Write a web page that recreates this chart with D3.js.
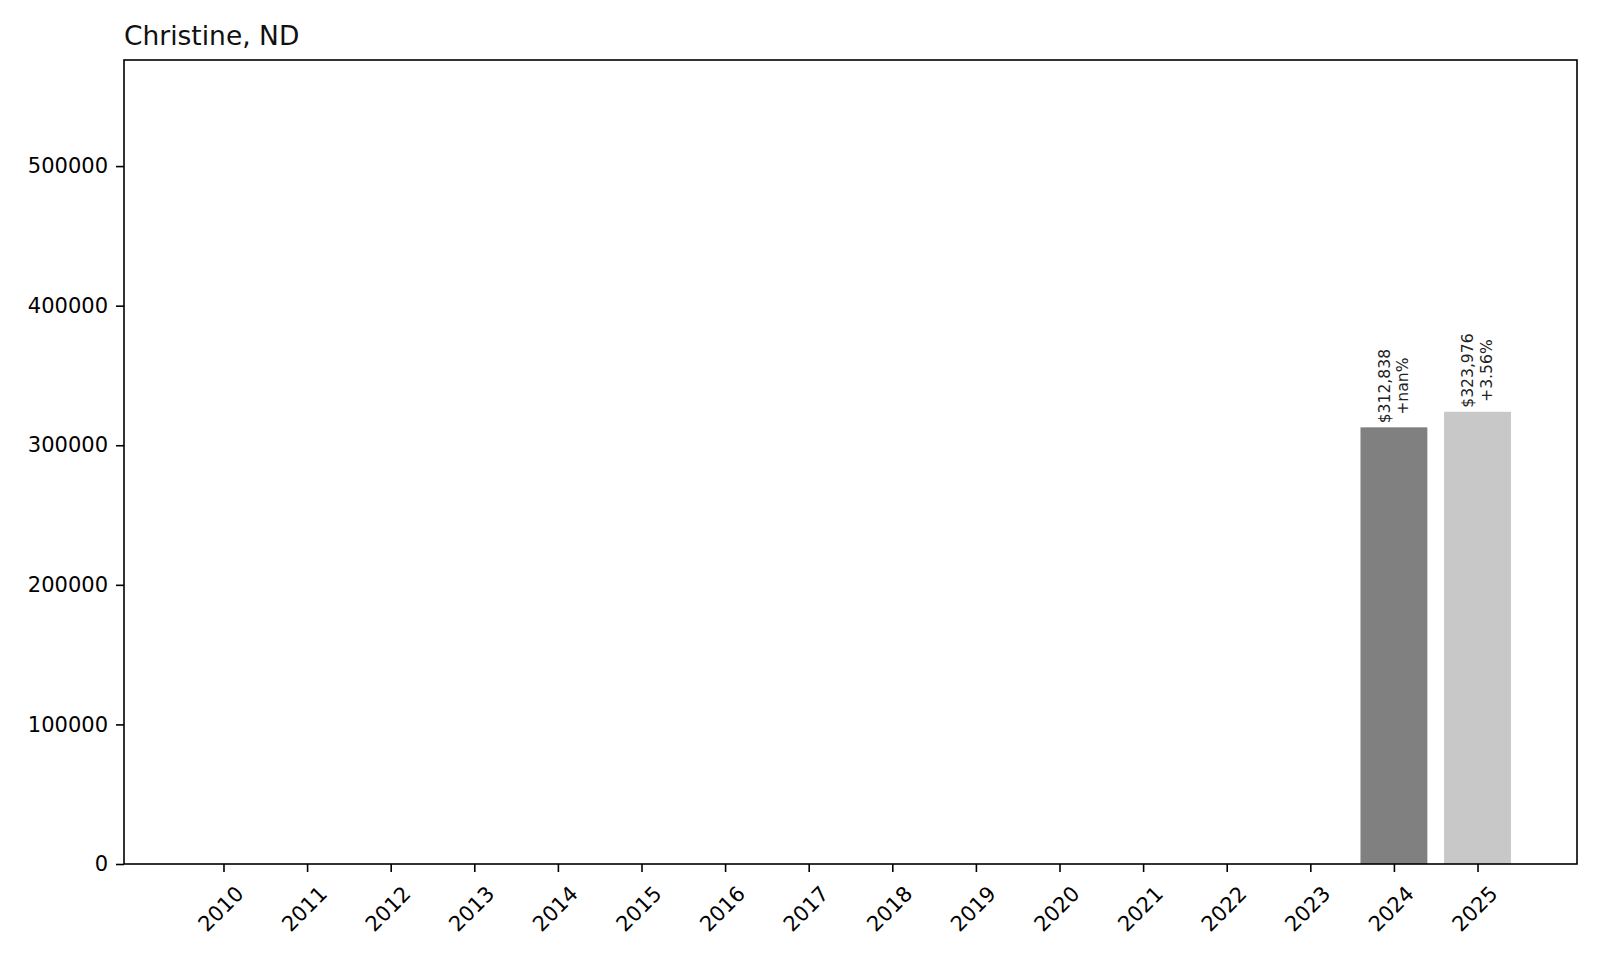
<!DOCTYPE html>
<html>
<head>
<meta charset="utf-8">
<script src="https://cdn.jsdelivr.net/npm/d3@7"></script>
<style>
  html, body { margin: 0; padding: 0; background: #fff; }
  svg { display: block; }
  text { font-family: "DejaVu Sans", sans-serif; fill: #000; }
</style>
</head>
<body>
<svg id="chart" width="1600" height="960"></svg>
<script>
const title = "Christine, ND";
const years = ["2010","2011","2012","2013","2014","2015","2016","2017","2018","2019","2020","2021","2022","2023","2024","2025"];
const values = [0,0,0,0,0,0,0,0,0,0,0,0,0,0,312838,323976];
const valueLabels = ["","","","","","","","","","","","","","","$312,838","$323,976"];
const changeLabels = ["","","","","","","","","","","","","","","+nan%","+3.56%"];
const barColors = ["#808080","#808080","#808080","#808080","#808080","#808080","#808080","#808080","#808080","#808080","#808080","#808080","#808080","#808080","#808080","#c8c8c8"];
const yTicks = [0, 100000, 200000, 300000, 400000, 500000];
const yMax = 576000;

(function () {
const svg = d3.select("#chart");
const mLeft = 124, mRight = 1577, mTop = 60, mBottom = 864;

const x = d3.scaleLinear().domain([-1.19, 16.19]).range([mLeft, mRight]);
const y = d3.scaleLinear().domain([0, yMax]).range([mBottom, mTop]);
const bw = 0.8;

// bars
const g = svg.append("g");
years.forEach((yr, i) => {
  const v = values[i];
  if (!v) return;
  g.append("rect")
    .attr("x", x(i - bw/2))
    .attr("width", x(i + bw/2) - x(i - bw/2))
    .attr("y", y(v))
    .attr("height", y(0) - y(v))
    .attr("fill", barColors[i]);
});

// bar labels
years.forEach((yr, i) => {
  const v = values[i];
  if (!v) return;
  const cx = x(i);
  const lines = [valueLabels[i], changeLabels[i]];
  const fs = 15.6, lh = 18.5;
  const tmp = svg.append("text").style("font-size", fs + "px");
  let maxLen = 0;
  lines.forEach(l => { tmp.text(l); maxLen = Math.max(maxLen, tmp.node().getComputedTextLength()); });
  tmp.remove();
  const pad = 4;
  const cy = y(v) - pad - maxLen / 2;
  const n = lines.length;
  lines.forEach((l, k) => {
    const off = (k - (n - 1) / 2) * lh;
    svg.append("text")
      .attr("transform", `translate(${cx + off},${cy}) rotate(-90)`)
      .attr("text-anchor", "middle")
      .attr("dominant-baseline", "central")
      .style("font-size", fs + "px")
      .style("fill", "#222")
      .text(l);
  });
});

// frame
svg.append("rect")
  .attr("x", mLeft).attr("y", mTop)
  .attr("width", mRight - mLeft).attr("height", mBottom - mTop)
  .attr("fill", "none").attr("stroke", "#000").attr("stroke-width", 1.6);

// y axis
const yAxis = d3.axisLeft(y).tickValues(yTicks).tickFormat(d3.format("d")).tickSize(8).tickPadding(8);
const ya = svg.append("g").attr("transform", `translate(${mLeft},0)`).call(yAxis);
ya.select(".domain").remove();
ya.selectAll("line").attr("stroke", "#000").attr("stroke-width", 1.6);
ya.selectAll("text").style("font-size", "21px").style("font-family", "DejaVu Sans").attr("fill", "#111");

// x axis
const xa = svg.append("g").attr("transform", `translate(0,${mBottom})`)
  .call(d3.axisBottom(x).tickValues(d3.range(years.length)).tickFormat(i => years[i]).tickSize(8));
xa.select(".domain").remove();
xa.selectAll("line").attr("stroke", "#000").attr("stroke-width", 1.6);
xa.selectAll("text")
  .attr("y", null).attr("dy", null)
  .attr("transform", "translate(-3,45) rotate(-45)")
  .attr("text-anchor", "middle")
  .attr("dominant-baseline", "central")
  .style("font-size", "21px").style("font-family", "DejaVu Sans").attr("fill", "#111");

// title
svg.append("text")
  .attr("x", mLeft).attr("y", 45)
  .style("font-size", "26.5px")
  .style("fill", "#111")
  .text(title);
})();
</script>
</body>
</html>
